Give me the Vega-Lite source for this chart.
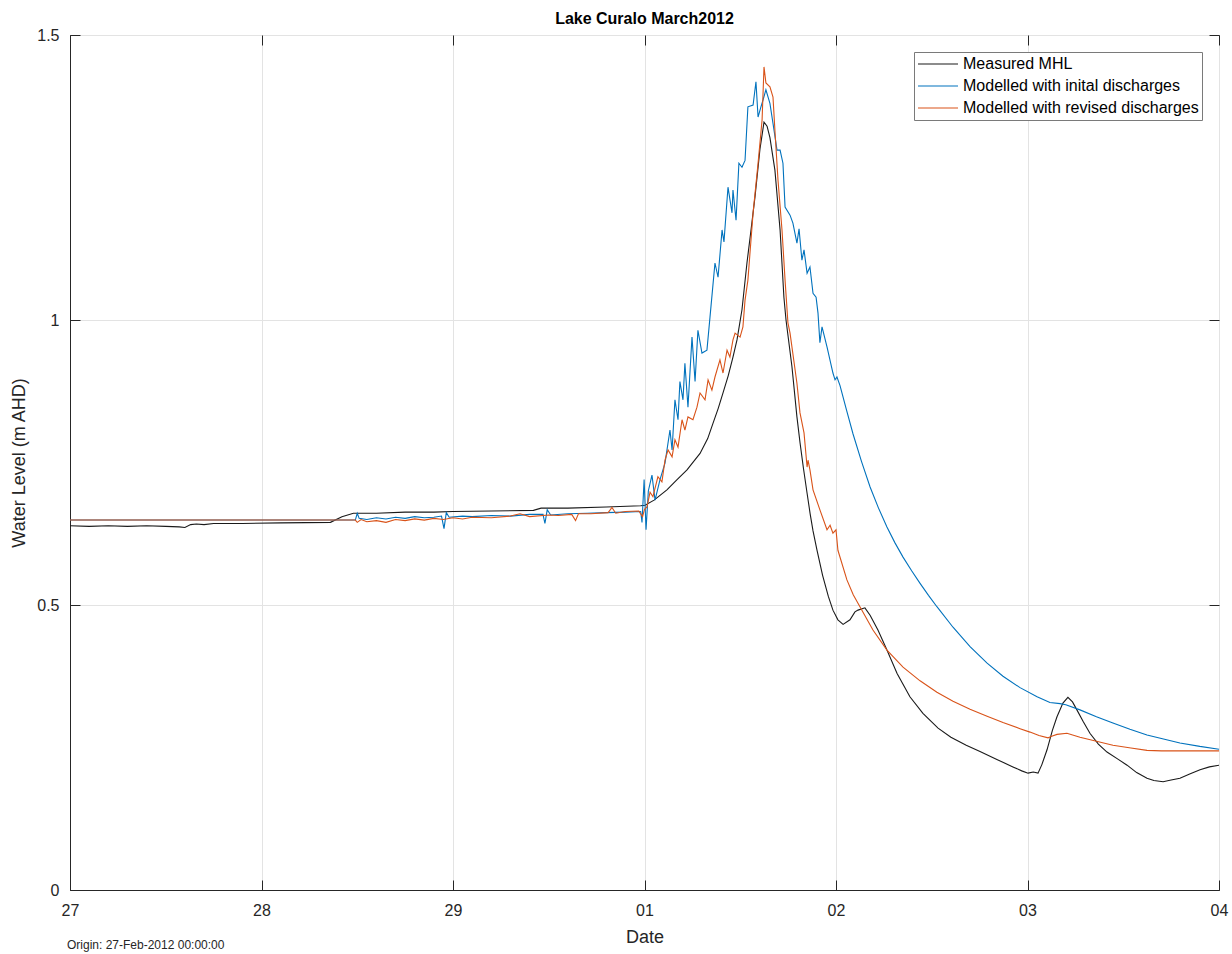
{
  "$schema": "https://vega.github.io/schema/vega-lite/v6.json",
  "width": 1149,
  "height": 855,
  "autosize": {"type": "none"},
  "padding": {"left": 70, "top": 35, "right": 13, "bottom": 64},
  "background": "white",
  "config": {
    "font": "Liberation Sans",
    "view": {"stroke": "#262626", "strokeWidth": 1}
  },
  "title": {"text": "Lake Curalo March2012", "fontSize": 16, "fontWeight": "bold", "color": "#000000", "anchor": "middle", "offset": 0, "font": "Liberation Sans"},
  "datasets": {
    "series": [
      {"t": 0, "v": 0.639, "s": "Measured MHL"},
      {"t": 0.1, "v": 0.638, "s": "Measured MHL"},
      {"t": 0.2, "v": 0.639, "s": "Measured MHL"},
      {"t": 0.3, "v": 0.638, "s": "Measured MHL"},
      {"t": 0.4, "v": 0.639, "s": "Measured MHL"},
      {"t": 0.5, "v": 0.638, "s": "Measured MHL"},
      {"t": 0.57, "v": 0.637, "s": "Measured MHL"},
      {"t": 0.6, "v": 0.636, "s": "Measured MHL"},
      {"t": 0.63, "v": 0.641, "s": "Measured MHL"},
      {"t": 0.66, "v": 0.642, "s": "Measured MHL"},
      {"t": 0.7, "v": 0.641, "s": "Measured MHL"},
      {"t": 0.75, "v": 0.643, "s": "Measured MHL"},
      {"t": 0.9, "v": 0.643, "s": "Measured MHL"},
      {"t": 1.1, "v": 0.644, "s": "Measured MHL"},
      {"t": 1.36, "v": 0.645, "s": "Measured MHL"},
      {"t": 1.42, "v": 0.655, "s": "Measured MHL"},
      {"t": 1.48, "v": 0.661, "s": "Measured MHL"},
      {"t": 1.6, "v": 0.661, "s": "Measured MHL"},
      {"t": 1.75, "v": 0.663, "s": "Measured MHL"},
      {"t": 1.9, "v": 0.663, "s": "Measured MHL"},
      {"t": 2.0, "v": 0.664, "s": "Measured MHL"},
      {"t": 2.2, "v": 0.665, "s": "Measured MHL"},
      {"t": 2.42, "v": 0.666, "s": "Measured MHL"},
      {"t": 2.46, "v": 0.670, "s": "Measured MHL"},
      {"t": 2.6, "v": 0.670, "s": "Measured MHL"},
      {"t": 2.8, "v": 0.672, "s": "Measured MHL"},
      {"t": 2.98, "v": 0.674, "s": "Measured MHL"},
      {"t": 3.003, "v": 0.675, "s": "Measured MHL"},
      {"t": 3.05, "v": 0.684, "s": "Measured MHL"},
      {"t": 3.117, "v": 0.702, "s": "Measured MHL"},
      {"t": 3.17, "v": 0.72, "s": "Measured MHL"},
      {"t": 3.222, "v": 0.737, "s": "Measured MHL"},
      {"t": 3.29, "v": 0.766, "s": "Measured MHL"},
      {"t": 3.33, "v": 0.792, "s": "Measured MHL"},
      {"t": 3.358, "v": 0.819, "s": "Measured MHL"},
      {"t": 3.385, "v": 0.845, "s": "Measured MHL"},
      {"t": 3.41, "v": 0.872, "s": "Measured MHL"},
      {"t": 3.437, "v": 0.902, "s": "Measured MHL"},
      {"t": 3.462, "v": 0.935, "s": "Measured MHL"},
      {"t": 3.483, "v": 0.965, "s": "Measured MHL"},
      {"t": 3.509, "v": 1.018, "s": "Measured MHL"},
      {"t": 3.535, "v": 1.10, "s": "Measured MHL"},
      {"t": 3.557, "v": 1.16, "s": "Measured MHL"},
      {"t": 3.577, "v": 1.216, "s": "Measured MHL"},
      {"t": 3.603, "v": 1.30, "s": "Measured MHL"},
      {"t": 3.624, "v": 1.347, "s": "Measured MHL"},
      {"t": 3.64, "v": 1.34, "s": "Measured MHL"},
      {"t": 3.655, "v": 1.32, "s": "Measured MHL"},
      {"t": 3.681, "v": 1.263, "s": "Measured MHL"},
      {"t": 3.708, "v": 1.158, "s": "Measured MHL"},
      {"t": 3.728, "v": 1.04, "s": "Measured MHL"},
      {"t": 3.739, "v": 1.0, "s": "Measured MHL"},
      {"t": 3.77, "v": 0.918, "s": "Measured MHL"},
      {"t": 3.796, "v": 0.83, "s": "Measured MHL"},
      {"t": 3.812, "v": 0.785, "s": "Measured MHL"},
      {"t": 3.83, "v": 0.74, "s": "Measured MHL"},
      {"t": 3.849, "v": 0.696, "s": "Measured MHL"},
      {"t": 3.865, "v": 0.66, "s": "Measured MHL"},
      {"t": 3.88, "v": 0.63, "s": "Measured MHL"},
      {"t": 3.901, "v": 0.596, "s": "Measured MHL"},
      {"t": 3.93, "v": 0.552, "s": "Measured MHL"},
      {"t": 3.96, "v": 0.515, "s": "Measured MHL"},
      {"t": 3.984, "v": 0.491, "s": "Measured MHL"},
      {"t": 4.01, "v": 0.474, "s": "Measured MHL"},
      {"t": 4.037, "v": 0.466, "s": "Measured MHL"},
      {"t": 4.073, "v": 0.474, "s": "Measured MHL"},
      {"t": 4.099, "v": 0.488, "s": "Measured MHL"},
      {"t": 4.115, "v": 0.491, "s": "Measured MHL"},
      {"t": 4.151, "v": 0.495, "s": "Measured MHL"},
      {"t": 4.178, "v": 0.482, "s": "Measured MHL"},
      {"t": 4.219, "v": 0.456, "s": "Measured MHL"},
      {"t": 4.266, "v": 0.421, "s": "Measured MHL"},
      {"t": 4.319, "v": 0.38, "s": "Measured MHL"},
      {"t": 4.386, "v": 0.339, "s": "Measured MHL"},
      {"t": 4.454, "v": 0.31, "s": "Measured MHL"},
      {"t": 4.533, "v": 0.284, "s": "Measured MHL"},
      {"t": 4.6, "v": 0.268, "s": "Measured MHL"},
      {"t": 4.68, "v": 0.254, "s": "Measured MHL"},
      {"t": 4.752, "v": 0.243, "s": "Measured MHL"},
      {"t": 4.84, "v": 0.229, "s": "Measured MHL"},
      {"t": 4.924, "v": 0.216, "s": "Measured MHL"},
      {"t": 4.97, "v": 0.209, "s": "Measured MHL"},
      {"t": 5.003, "v": 0.205, "s": "Measured MHL"},
      {"t": 5.03, "v": 0.207, "s": "Measured MHL"},
      {"t": 5.055, "v": 0.205, "s": "Measured MHL"},
      {"t": 5.075, "v": 0.22, "s": "Measured MHL"},
      {"t": 5.102, "v": 0.246, "s": "Measured MHL"},
      {"t": 5.13, "v": 0.28, "s": "Measured MHL"},
      {"t": 5.154, "v": 0.304, "s": "Measured MHL"},
      {"t": 5.185, "v": 0.328, "s": "Measured MHL"},
      {"t": 5.211, "v": 0.338, "s": "Measured MHL"},
      {"t": 5.235, "v": 0.33, "s": "Measured MHL"},
      {"t": 5.258, "v": 0.316, "s": "Measured MHL"},
      {"t": 5.29, "v": 0.296, "s": "Measured MHL"},
      {"t": 5.326, "v": 0.275, "s": "Measured MHL"},
      {"t": 5.37, "v": 0.256, "s": "Measured MHL"},
      {"t": 5.415, "v": 0.242, "s": "Measured MHL"},
      {"t": 5.47, "v": 0.23, "s": "Measured MHL"},
      {"t": 5.52, "v": 0.219, "s": "Measured MHL"},
      {"t": 5.57, "v": 0.206, "s": "Measured MHL"},
      {"t": 5.624, "v": 0.196, "s": "Measured MHL"},
      {"t": 5.66, "v": 0.192, "s": "Measured MHL"},
      {"t": 5.708, "v": 0.19, "s": "Measured MHL"},
      {"t": 5.75, "v": 0.193, "s": "Measured MHL"},
      {"t": 5.796, "v": 0.196, "s": "Measured MHL"},
      {"t": 5.85, "v": 0.204, "s": "Measured MHL"},
      {"t": 5.901, "v": 0.211, "s": "Measured MHL"},
      {"t": 5.95, "v": 0.216, "s": "Measured MHL"},
      {"t": 6.0, "v": 0.219, "s": "Measured MHL"},

      {"t": 0, "v": 0.649, "s": "Modelled with inital discharges"},
      {"t": 1.49, "v": 0.649, "s": "Modelled with inital discharges"},
      {"t": 1.5, "v": 0.661, "s": "Modelled with inital discharges"},
      {"t": 1.51, "v": 0.652, "s": "Modelled with inital discharges"},
      {"t": 1.55, "v": 0.650, "s": "Modelled with inital discharges"},
      {"t": 1.6, "v": 0.653, "s": "Modelled with inital discharges"},
      {"t": 1.65, "v": 0.651, "s": "Modelled with inital discharges"},
      {"t": 1.7, "v": 0.654, "s": "Modelled with inital discharges"},
      {"t": 1.75, "v": 0.652, "s": "Modelled with inital discharges"},
      {"t": 1.8, "v": 0.655, "s": "Modelled with inital discharges"},
      {"t": 1.85, "v": 0.653, "s": "Modelled with inital discharges"},
      {"t": 1.9, "v": 0.654, "s": "Modelled with inital discharges"},
      {"t": 1.94, "v": 0.656, "s": "Modelled with inital discharges"},
      {"t": 1.953, "v": 0.634, "s": "Modelled with inital discharges"},
      {"t": 1.965, "v": 0.662, "s": "Modelled with inital discharges"},
      {"t": 1.98, "v": 0.654, "s": "Modelled with inital discharges"},
      {"t": 2.05, "v": 0.656, "s": "Modelled with inital discharges"},
      {"t": 2.1, "v": 0.655, "s": "Modelled with inital discharges"},
      {"t": 2.2, "v": 0.657, "s": "Modelled with inital discharges"},
      {"t": 2.3, "v": 0.656, "s": "Modelled with inital discharges"},
      {"t": 2.4, "v": 0.659, "s": "Modelled with inital discharges"},
      {"t": 2.47, "v": 0.659, "s": "Modelled with inital discharges"},
      {"t": 2.48, "v": 0.643, "s": "Modelled with inital discharges"},
      {"t": 2.492, "v": 0.667, "s": "Modelled with inital discharges"},
      {"t": 2.51, "v": 0.658, "s": "Modelled with inital discharges"},
      {"t": 2.6, "v": 0.660, "s": "Modelled with inital discharges"},
      {"t": 2.7, "v": 0.661, "s": "Modelled with inital discharges"},
      {"t": 2.8, "v": 0.662, "s": "Modelled with inital discharges"},
      {"t": 2.9, "v": 0.663, "s": "Modelled with inital discharges"},
      {"t": 2.98, "v": 0.664, "s": "Modelled with inital discharges"},
      {"t": 2.987, "v": 0.645, "s": "Modelled with inital discharges"},
      {"t": 2.998, "v": 0.72, "s": "Modelled with inital discharges"},
      {"t": 3.008, "v": 0.632, "s": "Modelled with inital discharges"},
      {"t": 3.02, "v": 0.70, "s": "Modelled with inital discharges"},
      {"t": 3.039, "v": 0.728, "s": "Modelled with inital discharges"},
      {"t": 3.055, "v": 0.684, "s": "Modelled with inital discharges"},
      {"t": 3.081, "v": 0.72, "s": "Modelled with inital discharges"},
      {"t": 3.107, "v": 0.749, "s": "Modelled with inital discharges"},
      {"t": 3.133, "v": 0.807, "s": "Modelled with inital discharges"},
      {"t": 3.144, "v": 0.772, "s": "Modelled with inital discharges"},
      {"t": 3.159, "v": 0.86, "s": "Modelled with inital discharges"},
      {"t": 3.175, "v": 0.825, "s": "Modelled with inital discharges"},
      {"t": 3.185, "v": 0.892, "s": "Modelled with inital discharges"},
      {"t": 3.201, "v": 0.86, "s": "Modelled with inital discharges"},
      {"t": 3.211, "v": 0.924, "s": "Modelled with inital discharges"},
      {"t": 3.227, "v": 0.847, "s": "Modelled with inital discharges"},
      {"t": 3.248, "v": 0.97, "s": "Modelled with inital discharges"},
      {"t": 3.264, "v": 0.892, "s": "Modelled with inital discharges"},
      {"t": 3.279, "v": 0.982, "s": "Modelled with inital discharges"},
      {"t": 3.3, "v": 0.942, "s": "Modelled with inital discharges"},
      {"t": 3.326, "v": 0.947, "s": "Modelled with inital discharges"},
      {"t": 3.342, "v": 1.005, "s": "Modelled with inital discharges"},
      {"t": 3.368, "v": 1.10, "s": "Modelled with inital discharges"},
      {"t": 3.384, "v": 1.075, "s": "Modelled with inital discharges"},
      {"t": 3.405, "v": 1.158, "s": "Modelled with inital discharges"},
      {"t": 3.415, "v": 1.137, "s": "Modelled with inital discharges"},
      {"t": 3.436, "v": 1.233, "s": "Modelled with inital discharges"},
      {"t": 3.457, "v": 1.188, "s": "Modelled with inital discharges"},
      {"t": 3.462, "v": 1.228, "s": "Modelled with inital discharges"},
      {"t": 3.478, "v": 1.175, "s": "Modelled with inital discharges"},
      {"t": 3.493, "v": 1.275, "s": "Modelled with inital discharges"},
      {"t": 3.509, "v": 1.268, "s": "Modelled with inital discharges"},
      {"t": 3.525, "v": 1.28, "s": "Modelled with inital discharges"},
      {"t": 3.54, "v": 1.374, "s": "Modelled with inital discharges"},
      {"t": 3.567, "v": 1.377, "s": "Modelled with inital discharges"},
      {"t": 3.582, "v": 1.418, "s": "Modelled with inital discharges"},
      {"t": 3.593, "v": 1.356, "s": "Modelled with inital discharges"},
      {"t": 3.608, "v": 1.374, "s": "Modelled with inital discharges"},
      {"t": 3.619, "v": 1.386, "s": "Modelled with inital discharges"},
      {"t": 3.634, "v": 1.404, "s": "Modelled with inital discharges"},
      {"t": 3.655, "v": 1.38, "s": "Modelled with inital discharges"},
      {"t": 3.671, "v": 1.345, "s": "Modelled with inital discharges"},
      {"t": 3.692, "v": 1.298, "s": "Modelled with inital discharges"},
      {"t": 3.708, "v": 1.298, "s": "Modelled with inital discharges"},
      {"t": 3.723, "v": 1.275, "s": "Modelled with inital discharges"},
      {"t": 3.734, "v": 1.198, "s": "Modelled with inital discharges"},
      {"t": 3.76, "v": 1.184, "s": "Modelled with inital discharges"},
      {"t": 3.775, "v": 1.17, "s": "Modelled with inital discharges"},
      {"t": 3.796, "v": 1.135, "s": "Modelled with inital discharges"},
      {"t": 3.807, "v": 1.16, "s": "Modelled with inital discharges"},
      {"t": 3.822, "v": 1.105, "s": "Modelled with inital discharges"},
      {"t": 3.833, "v": 1.123, "s": "Modelled with inital discharges"},
      {"t": 3.849, "v": 1.082, "s": "Modelled with inital discharges"},
      {"t": 3.864, "v": 1.093, "s": "Modelled with inital discharges"},
      {"t": 3.88, "v": 1.047, "s": "Modelled with inital discharges"},
      {"t": 3.896, "v": 1.04, "s": "Modelled with inital discharges"},
      {"t": 3.906, "v": 1.012, "s": "Modelled with inital discharges"},
      {"t": 3.916, "v": 0.96, "s": "Modelled with inital discharges"},
      {"t": 3.927, "v": 0.988, "s": "Modelled with inital discharges"},
      {"t": 3.953, "v": 0.953, "s": "Modelled with inital discharges"},
      {"t": 3.984, "v": 0.907, "s": "Modelled with inital discharges"},
      {"t": 3.995, "v": 0.895, "s": "Modelled with inital discharges"},
      {"t": 4.005, "v": 0.9, "s": "Modelled with inital discharges"},
      {"t": 4.021, "v": 0.885, "s": "Modelled with inital discharges"},
      {"t": 4.055, "v": 0.842, "s": "Modelled with inital discharges"},
      {"t": 4.089, "v": 0.80, "s": "Modelled with inital discharges"},
      {"t": 4.133, "v": 0.752, "s": "Modelled with inital discharges"},
      {"t": 4.178, "v": 0.707, "s": "Modelled with inital discharges"},
      {"t": 4.222, "v": 0.67, "s": "Modelled with inital discharges"},
      {"t": 4.266, "v": 0.637, "s": "Modelled with inital discharges"},
      {"t": 4.308, "v": 0.609, "s": "Modelled with inital discharges"},
      {"t": 4.35, "v": 0.584, "s": "Modelled with inital discharges"},
      {"t": 4.395, "v": 0.56, "s": "Modelled with inital discharges"},
      {"t": 4.439, "v": 0.538, "s": "Modelled with inital discharges"},
      {"t": 4.483, "v": 0.517, "s": "Modelled with inital discharges"},
      {"t": 4.527, "v": 0.497, "s": "Modelled with inital discharges"},
      {"t": 4.611, "v": 0.461, "s": "Modelled with inital discharges"},
      {"t": 4.7, "v": 0.427, "s": "Modelled with inital discharges"},
      {"t": 4.789, "v": 0.398, "s": "Modelled with inital discharges"},
      {"t": 4.872, "v": 0.375, "s": "Modelled with inital discharges"},
      {"t": 4.961, "v": 0.355, "s": "Modelled with inital discharges"},
      {"t": 5.05, "v": 0.339, "s": "Modelled with inital discharges"},
      {"t": 5.117, "v": 0.329, "s": "Modelled with inital discharges"},
      {"t": 5.17, "v": 0.327, "s": "Modelled with inital discharges"},
      {"t": 5.2, "v": 0.325, "s": "Modelled with inital discharges"},
      {"t": 5.274, "v": 0.316, "s": "Modelled with inital discharges"},
      {"t": 5.36, "v": 0.304, "s": "Modelled with inital discharges"},
      {"t": 5.446, "v": 0.293, "s": "Modelled with inital discharges"},
      {"t": 5.535, "v": 0.282, "s": "Modelled with inital discharges"},
      {"t": 5.624, "v": 0.272, "s": "Modelled with inital discharges"},
      {"t": 5.71, "v": 0.265, "s": "Modelled with inital discharges"},
      {"t": 5.796, "v": 0.258, "s": "Modelled with inital discharges"},
      {"t": 5.9, "v": 0.252, "s": "Modelled with inital discharges"},
      {"t": 6.0, "v": 0.247, "s": "Modelled with inital discharges"},

      {"t": 0, "v": 0.649, "s": "Modelled with revised discharges"},
      {"t": 1.49, "v": 0.649, "s": "Modelled with revised discharges"},
      {"t": 1.5, "v": 0.645, "s": "Modelled with revised discharges"},
      {"t": 1.52, "v": 0.650, "s": "Modelled with revised discharges"},
      {"t": 1.55, "v": 0.646, "s": "Modelled with revised discharges"},
      {"t": 1.6, "v": 0.648, "s": "Modelled with revised discharges"},
      {"t": 1.65, "v": 0.645, "s": "Modelled with revised discharges"},
      {"t": 1.7, "v": 0.650, "s": "Modelled with revised discharges"},
      {"t": 1.75, "v": 0.648, "s": "Modelled with revised discharges"},
      {"t": 1.8, "v": 0.651, "s": "Modelled with revised discharges"},
      {"t": 1.85, "v": 0.649, "s": "Modelled with revised discharges"},
      {"t": 1.9, "v": 0.652, "s": "Modelled with revised discharges"},
      {"t": 1.95, "v": 0.650, "s": "Modelled with revised discharges"},
      {"t": 2.0, "v": 0.653, "s": "Modelled with revised discharges"},
      {"t": 2.05, "v": 0.651, "s": "Modelled with revised discharges"},
      {"t": 2.1, "v": 0.654, "s": "Modelled with revised discharges"},
      {"t": 2.2, "v": 0.653, "s": "Modelled with revised discharges"},
      {"t": 2.3, "v": 0.656, "s": "Modelled with revised discharges"},
      {"t": 2.35, "v": 0.660, "s": "Modelled with revised discharges"},
      {"t": 2.4, "v": 0.655, "s": "Modelled with revised discharges"},
      {"t": 2.5, "v": 0.658, "s": "Modelled with revised discharges"},
      {"t": 2.55, "v": 0.657, "s": "Modelled with revised discharges"},
      {"t": 2.62, "v": 0.659, "s": "Modelled with revised discharges"},
      {"t": 2.64, "v": 0.648, "s": "Modelled with revised discharges"},
      {"t": 2.655, "v": 0.660, "s": "Modelled with revised discharges"},
      {"t": 2.72, "v": 0.660, "s": "Modelled with revised discharges"},
      {"t": 2.81, "v": 0.662, "s": "Modelled with revised discharges"},
      {"t": 2.83, "v": 0.671, "s": "Modelled with revised discharges"},
      {"t": 2.85, "v": 0.661, "s": "Modelled with revised discharges"},
      {"t": 2.9, "v": 0.664, "s": "Modelled with revised discharges"},
      {"t": 2.97, "v": 0.665, "s": "Modelled with revised discharges"},
      {"t": 2.99, "v": 0.655, "s": "Modelled with revised discharges"},
      {"t": 3.0, "v": 0.668, "s": "Modelled with revised discharges"},
      {"t": 3.013, "v": 0.672, "s": "Modelled with revised discharges"},
      {"t": 3.029, "v": 0.698, "s": "Modelled with revised discharges"},
      {"t": 3.044, "v": 0.69, "s": "Modelled with revised discharges"},
      {"t": 3.07, "v": 0.725, "s": "Modelled with revised discharges"},
      {"t": 3.091, "v": 0.716, "s": "Modelled with revised discharges"},
      {"t": 3.107, "v": 0.754, "s": "Modelled with revised discharges"},
      {"t": 3.123, "v": 0.772, "s": "Modelled with revised discharges"},
      {"t": 3.144, "v": 0.76, "s": "Modelled with revised discharges"},
      {"t": 3.159, "v": 0.79, "s": "Modelled with revised discharges"},
      {"t": 3.175, "v": 0.777, "s": "Modelled with revised discharges"},
      {"t": 3.196, "v": 0.825, "s": "Modelled with revised discharges"},
      {"t": 3.211, "v": 0.807, "s": "Modelled with revised discharges"},
      {"t": 3.227, "v": 0.83, "s": "Modelled with revised discharges"},
      {"t": 3.253, "v": 0.825, "s": "Modelled with revised discharges"},
      {"t": 3.274, "v": 0.847, "s": "Modelled with revised discharges"},
      {"t": 3.29, "v": 0.872, "s": "Modelled with revised discharges"},
      {"t": 3.316, "v": 0.86, "s": "Modelled with revised discharges"},
      {"t": 3.332, "v": 0.895, "s": "Modelled with revised discharges"},
      {"t": 3.352, "v": 0.877, "s": "Modelled with revised discharges"},
      {"t": 3.368, "v": 0.9, "s": "Modelled with revised discharges"},
      {"t": 3.394, "v": 0.93, "s": "Modelled with revised discharges"},
      {"t": 3.41, "v": 0.907, "s": "Modelled with revised discharges"},
      {"t": 3.431, "v": 0.947, "s": "Modelled with revised discharges"},
      {"t": 3.446, "v": 0.935, "s": "Modelled with revised discharges"},
      {"t": 3.462, "v": 0.965, "s": "Modelled with revised discharges"},
      {"t": 3.473, "v": 0.977, "s": "Modelled with revised discharges"},
      {"t": 3.499, "v": 0.97, "s": "Modelled with revised discharges"},
      {"t": 3.514, "v": 0.988, "s": "Modelled with revised discharges"},
      {"t": 3.525, "v": 1.035, "s": "Modelled with revised discharges"},
      {"t": 3.54, "v": 1.07, "s": "Modelled with revised discharges"},
      {"t": 3.567, "v": 1.188, "s": "Modelled with revised discharges"},
      {"t": 3.593, "v": 1.275, "s": "Modelled with revised discharges"},
      {"t": 3.614, "v": 1.351, "s": "Modelled with revised discharges"},
      {"t": 3.624, "v": 1.444, "s": "Modelled with revised discharges"},
      {"t": 3.634, "v": 1.416, "s": "Modelled with revised discharges"},
      {"t": 3.655, "v": 1.409, "s": "Modelled with revised discharges"},
      {"t": 3.671, "v": 1.391, "s": "Modelled with revised discharges"},
      {"t": 3.681, "v": 1.333, "s": "Modelled with revised discharges"},
      {"t": 3.697, "v": 1.246, "s": "Modelled with revised discharges"},
      {"t": 3.718, "v": 1.158, "s": "Modelled with revised discharges"},
      {"t": 3.734, "v": 1.07, "s": "Modelled with revised discharges"},
      {"t": 3.749, "v": 0.995, "s": "Modelled with revised discharges"},
      {"t": 3.76, "v": 0.977, "s": "Modelled with revised discharges"},
      {"t": 3.796, "v": 0.889, "s": "Modelled with revised discharges"},
      {"t": 3.812, "v": 0.837, "s": "Modelled with revised discharges"},
      {"t": 3.833, "v": 0.802, "s": "Modelled with revised discharges"},
      {"t": 3.849, "v": 0.742, "s": "Modelled with revised discharges"},
      {"t": 3.854, "v": 0.754, "s": "Modelled with revised discharges"},
      {"t": 3.864, "v": 0.737, "s": "Modelled with revised discharges"},
      {"t": 3.88, "v": 0.702, "s": "Modelled with revised discharges"},
      {"t": 3.916, "v": 0.667, "s": "Modelled with revised discharges"},
      {"t": 3.953, "v": 0.632, "s": "Modelled with revised discharges"},
      {"t": 3.969, "v": 0.64, "s": "Modelled with revised discharges"},
      {"t": 3.984, "v": 0.626, "s": "Modelled with revised discharges"},
      {"t": 4.0, "v": 0.632, "s": "Modelled with revised discharges"},
      {"t": 4.01, "v": 0.596, "s": "Modelled with revised discharges"},
      {"t": 4.057, "v": 0.544, "s": "Modelled with revised discharges"},
      {"t": 4.09, "v": 0.518, "s": "Modelled with revised discharges"},
      {"t": 4.125, "v": 0.497, "s": "Modelled with revised discharges"},
      {"t": 4.193, "v": 0.456, "s": "Modelled with revised discharges"},
      {"t": 4.266, "v": 0.421, "s": "Modelled with revised discharges"},
      {"t": 4.35, "v": 0.391, "s": "Modelled with revised discharges"},
      {"t": 4.439, "v": 0.367, "s": "Modelled with revised discharges"},
      {"t": 4.527, "v": 0.347, "s": "Modelled with revised discharges"},
      {"t": 4.611, "v": 0.331, "s": "Modelled with revised discharges"},
      {"t": 4.7, "v": 0.317, "s": "Modelled with revised discharges"},
      {"t": 4.789, "v": 0.305, "s": "Modelled with revised discharges"},
      {"t": 4.872, "v": 0.294, "s": "Modelled with revised discharges"},
      {"t": 4.961, "v": 0.283, "s": "Modelled with revised discharges"},
      {"t": 5.013, "v": 0.277, "s": "Modelled with revised discharges"},
      {"t": 5.06, "v": 0.271, "s": "Modelled with revised discharges"},
      {"t": 5.107, "v": 0.267, "s": "Modelled with revised discharges"},
      {"t": 5.13, "v": 0.27, "s": "Modelled with revised discharges"},
      {"t": 5.154, "v": 0.273, "s": "Modelled with revised discharges"},
      {"t": 5.206, "v": 0.275, "s": "Modelled with revised discharges"},
      {"t": 5.274, "v": 0.268, "s": "Modelled with revised discharges"},
      {"t": 5.36, "v": 0.261, "s": "Modelled with revised discharges"},
      {"t": 5.446, "v": 0.254, "s": "Modelled with revised discharges"},
      {"t": 5.54, "v": 0.249, "s": "Modelled with revised discharges"},
      {"t": 5.624, "v": 0.245, "s": "Modelled with revised discharges"},
      {"t": 5.7, "v": 0.244, "s": "Modelled with revised discharges"},
      {"t": 6.0, "v": 0.244, "s": "Modelled with revised discharges"}
    ],
    "note": [
      {"t": 0, "v": -0.0965, "label": "Origin: 27-Feb-2012 00:00:00"}
    ]
  },
  "layer": [
    {
      "data": {"name": "series"},
      "mark": {"type": "line", "strokeWidth": 1.1, "clip": true},
      "encoding": {
        "x": {
          "field": "t", "type": "quantitative",
          "scale": {"domain": [0, 6], "nice": false, "zero": false},
          "axis": {
            "orient": "bottom", "values": [0, 1, 2, 3, 4, 5, 6],
            "labelExpr": "['27','28','29','01','02','03','04'][datum.value]",
            "labelFlush": false,
            "title": "Date", "titleFontSize": 18, "titleFontWeight": "normal", "titleColor": "#262626", "titlePadding": 10, "titleFont": "Liberation Sans",
            "labelFontSize": 16, "labelColor": "#262626", "labelFont": "Liberation Sans", "labelPadding": 22,
            "domainColor": "#262626", "tickColor": "#262626", "tickSize": -10,
            "grid": true, "gridColor": "#e3e3e3", "gridWidth": 1
          }
        },
        "y": {
          "field": "v", "type": "quantitative",
          "scale": {"domain": [0, 1.5], "nice": false, "zero": false},
          "axis": {
            "orient": "left", "values": [0, 0.5, 1, 1.5], "format": "~g",
            "labelFlush": false,
            "title": "Water Level (m AHD)", "titleFontSize": 18, "titleFontWeight": "normal", "titleColor": "#262626", "titlePadding": 8, "titleFont": "Liberation Sans",
            "labelFontSize": 16, "labelColor": "#262626", "labelFont": "Liberation Sans", "labelPadding": 21,
            "domainColor": "#262626", "tickColor": "#262626", "tickSize": -10,
            "grid": true, "gridColor": "#e3e3e3", "gridWidth": 1
          }
        },
        "color": {
          "field": "s", "type": "nominal",
          "scale": {
            "domain": ["Measured MHL", "Modelled with inital discharges", "Modelled with revised discharges"],
            "range": ["#1a1a1a", "#0072BD", "#D95319"]
          },
          "legend": {
            "orient": "top-right", "offset": 17, "title": null,
            "symbolType": "stroke", "symbolSize": 1600, "symbolStrokeWidth": 1.2,
            "labelFontSize": 16, "labelColor": "#000000", "labelFont": "Liberation Sans", "labelOffset": 4, "labelLimit": 400,
            "clipHeight": 18, "rowPadding": 4, "padding": 3,
            "strokeColor": "#7a7a7a", "fillColor": "#ffffff", "cornerRadius": 0
          }
        }
      }
    },
    {
      "data": {"name": "note"},
      "mark": {"type": "text", "align": "left", "baseline": "middle", "fontSize": 12, "color": "#262626", "dx": -3, "font": "Liberation Sans"},
      "encoding": {
        "x": {
          "field": "t", "type": "quantitative",
          "scale": {"domain": [0, 6], "nice": false, "zero": false},
          "axis": {"orient": "top", "values": [0, 1, 2, 3, 4, 5, 6], "labels": false, "title": null, "grid": false, "domain": false, "tickColor": "#262626", "tickSize": -10}
        },
        "y": {
          "field": "v", "type": "quantitative",
          "scale": {"domain": [0, 1.5], "nice": false, "zero": false},
          "axis": {"orient": "right", "values": [0, 0.5, 1, 1.5], "labels": false, "title": null, "grid": false, "domain": false, "tickColor": "#262626", "tickSize": -10}
        },
        "text": {"field": "label"}
      }
    }
  ],
  "resolve": {"axis": {"x": "independent", "y": "independent"}}
}
